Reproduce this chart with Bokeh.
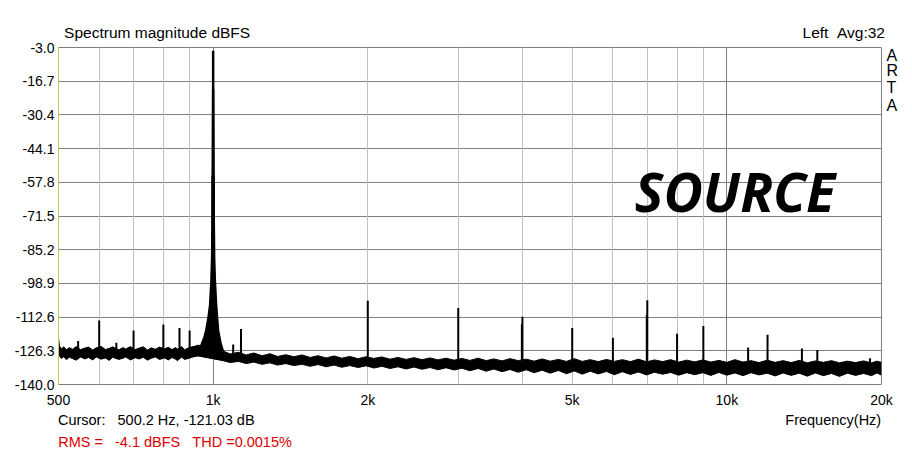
import numpy as np
from bokeh.plotting import figure
from bokeh.models import FixedTicker, Grid, Label, Range1d, LogAxis, LinearAxis
from bokeh.embed import file_html
from bokeh.resources import INLINE

# ---------------- data ----------------
# noise floor band: frequency (Hz), upper and lower envelope (dBFS)
noise_freq = [
    500, 502, 506, 512, 518, 525, 533, 541, 552, 563,
    572, 583, 592, 605, 617, 628, 637, 655, 668, 676,
    690, 705, 718, 731, 745, 758, 772, 786, 805, 818,
    832, 845, 852, 868, 880, 895, 910, 922, 935,
    1045, 1080, 1120, 1160, 1200, 1245, 1290, 1335, 1385, 1435,
    1490, 1545, 1600, 1660, 1720, 1780, 1845, 1915, 1985, 2055,
    2130, 2210, 2290, 2375, 2460, 2550, 2645, 2740, 2840, 2945,
    3050, 3160, 3280, 3400, 3520, 3650, 3785, 3925, 4070, 4215,
    4370, 4530, 4700, 4870, 5050, 5230, 5420, 5620, 5830, 6040,
    6260, 6490, 6730, 6980, 7230, 7500, 7770, 8060, 8350, 8660,
    8980, 9310, 9650, 10000, 10370, 10750, 11140, 11550, 11980, 12420,
    12870, 13340, 13830, 14340, 14870, 15410, 15980, 16560, 17170, 17800,
    18450, 19130, 19600, 20000,
]
noise_top = [
    -121.0, -124.2, -125.6, -124.7, -125.9, -125.0, -125.7, -124.6, -125.8, -125.2,
    -124.8, -126.0, -125.1, -124.5, -125.8, -125.3, -124.7, -125.9, -125.0, -125.6,
    -124.6, -125.8, -125.2, -124.7, -126.0, -125.1, -125.7, -124.8, -125.5, -124.9,
    -125.8, -125.0, -125.6, -124.6, -125.9, -125.1, -124.7, -124.4, -124.0,
    -126.4, -127.6, -126.9, -128.0, -127.2, -128.3, -127.5, -128.6, -127.9, -128.7,
    -128.0, -129.0, -128.3, -129.2, -128.4, -129.3, -128.6, -129.5, -128.7, -129.4,
    -128.8, -129.7, -129.0, -129.8, -129.1, -129.9, -129.2, -130.0, -129.3, -130.1,
    -129.4, -130.2, -129.3, -130.3, -129.6, -130.4, -129.5, -130.3, -129.7, -130.5,
    -129.6, -130.5, -129.8, -130.6, -129.5, -130.6, -129.9, -130.7, -129.8, -130.6,
    -129.9, -130.7, -129.7, -130.8, -130.0, -130.7, -129.9, -130.9, -130.1, -130.8,
    -130.0, -130.9, -130.2, -131.0, -129.9, -130.9, -130.3, -131.1, -130.1, -131.0,
    -130.3, -131.1, -130.2, -131.2, -130.4, -131.0, -130.3, -131.2, -130.5, -131.1,
    -130.4, -131.2, -130.5, -131.0,
]
noise_bottom = [
    -126.8, -128.3, -129.4, -128.7, -129.9, -128.9, -129.5, -130.1, -128.8, -129.6,
    -129.0, -130.0, -128.8, -129.7, -129.2, -130.2, -128.9, -129.8, -129.3, -128.8,
    -130.0, -129.1, -129.6, -128.9, -130.1, -129.3, -128.8, -129.8, -129.2, -130.0,
    -129.0, -129.7, -130.3, -128.9, -129.8, -129.4, -128.9, -128.6, -128.4,
    -130.3, -131.1, -130.6, -131.5, -130.9, -131.8, -131.2, -132.1, -131.5, -132.3,
    -131.8, -132.6, -131.9, -132.8, -132.1, -133.0, -132.3, -133.1, -132.4, -133.3,
    -132.6, -133.5, -132.8, -133.7, -132.9, -133.8, -133.1, -134.0, -133.2, -134.1,
    -133.4, -134.4, -133.5, -134.6, -133.7, -134.8, -133.9, -135.0, -134.0, -135.2,
    -134.2, -135.4, -134.3, -135.6, -134.5, -135.8, -134.6, -135.7, -134.7, -136.0,
    -134.8, -135.9, -134.9, -136.1, -135.0, -135.8, -135.1, -136.2, -135.2, -136.0,
    -135.2, -136.3, -135.1, -136.2, -135.3, -136.4, -135.2, -136.1, -135.4, -136.5,
    -135.3, -136.3, -135.4, -136.6, -135.3, -136.4, -135.5, -136.7, -135.4, -136.3,
    -135.5, -136.4, -135.3, -136.2,
]

# leakage skirt of the 1 kHz fundamental
skirt_freq = [935, 949, 960, 968, 978, 985.5, 991, 994.2, 996.5, 999,
              1001, 1003.5, 1005.8, 1009, 1014.5, 1019, 1024, 1036, 1048]
skirt_db = [-126.0, -123.7, -121.0, -118.3, -113.0, -107.6, -98.0, -89.0, -70.0, -20.0,
            -20.0, -70.0, -89.0, -98.0, -107.6, -113.0, -118.3, -123.7, -127.0]

fund_freq = 1000
fund_db = -4.3

# harmonics and spurious lines
spike_freq = [546, 600, 648, 700, 800, 860, 900, 1094, 1133,
              2000, 3000, 3990, 4000, 5000, 6000, 6985, 7000, 8000, 9000,
              11000, 12000, 14000, 15000, 19000]
spike_db = [-122.3, -114.0, -123.0, -118.0, -115.6, -117.0, -118.0, -123.7, -117.4,
            -106.0, -108.9, -115.5, -112.5, -117.0, -121.0, -111.6, -105.7, -119.4, -116.2,
            -125.0, -119.8, -125.4, -126.0, -129.3]

y_ticks = [-3.0, -16.7, -30.4, -44.1, -57.8, -71.5, -85.2, -98.9, -112.6, -126.3, -140.0]
x_ticks = [500, 1000, 2000, 5000, 10000, 20000]
x_tick_labels = ["500", "1k", "2k", "5k", "10k", "20k"]
grid_major_x = [1000, 10000]
grid_minor_x = [600, 700, 800, 900, 2000, 3000, 4000, 5000, 6000, 7000, 8000, 9000]

NB = "\u00a0"
title_text = "Spectrum magnitude dBFS"
channel_text = "Left" + NB * 2 + "Avg:32"
cursor_text = "Cursor:" + NB * 3 + "500.2 Hz, -121.03 dB"
xlabel_text = "Frequency(Hz)"
stats_text = "RMS =" + NB * 3 + "-4.1 dBFS" + NB * 3 + "THD =0.0015%"
brand_letters = ["A", "R", "T", "A"]
watermark_text = "SOURCE"

# ---------------- figure ----------------
FONT = "Liberation Sans"
p = figure(width=912, height=452, x_axis_type="log",
           x_range=Range1d(500, 20000), y_range=Range1d(-140, -3),
           output_backend="svg", toolbar_location=None,
           min_border_left=58, min_border_right=31,
           min_border_top=47, min_border_bottom=65)
p.background_fill_color = "white"
p.border_fill_color = "white"
p.outline_line_color = "#808080"
p.outline_line_width = 1


def plain(axis, size, standoff, color="black"):
    axis.axis_line_color = None
    axis.major_tick_line_color = None
    axis.minor_tick_line_color = None
    axis.major_tick_out = 0
    axis.minor_tick_out = 0
    axis.major_label_standoff = standoff
    axis.major_label_text_font = FONT
    axis.major_label_text_font_size = size
    axis.major_label_text_color = color


# main x axis
p.xaxis.ticker = FixedTicker(ticks=x_ticks)
p.xaxis.major_label_overrides = {t: l for t, l in zip(x_ticks, x_tick_labels)}
plain(p.xaxis[0], "14px", 7)

# main y axis
p.yaxis.ticker = FixedTicker(ticks=y_ticks)
p.yaxis.major_label_overrides = {t: f"{t:.1f}" for t in y_ticks}
plain(p.yaxis[0], "14px", 4)
p.yaxis.axis_line_color = "#c8c850"

# header line (title + channel info) as an axis above the frame
hdr_pos = [778, 16886]
ax_top = LogAxis(ticker=FixedTicker(ticks=hdr_pos),
                 major_label_overrides={hdr_pos[0]: title_text, hdr_pos[1]: channel_text})
plain(ax_top, "15.5px", 7)
p.add_layout(ax_top, "above")

# "ARTA" letters stacked on the right
arta_pos = [-6.30, -12.47, -19.40, -26.49]
ax_right = LinearAxis(ticker=FixedTicker(ticks=arta_pos),
                      major_label_overrides={v: c for v, c in zip(arta_pos, brand_letters)})
plain(ax_right, "16px", 5)
p.add_layout(ax_right, "right")

# cursor readout + axis title line
foot_pos = [775, 16110]
ax_foot1 = LogAxis(ticker=FixedTicker(ticks=foot_pos),
                   major_label_overrides={foot_pos[0]: cursor_text, foot_pos[1]: xlabel_text})
plain(ax_foot1, "14.5px", 1)
p.add_layout(ax_foot1, "below")

# RMS / THD line in red
stats_pos = [843]
ax_foot2 = LogAxis(ticker=FixedTicker(ticks=stats_pos),
                   major_label_overrides={stats_pos[0]: stats_text})
plain(ax_foot2, "14.5px", 3, color="#dd0000")
p.add_layout(ax_foot2, "below")

# grids
p.xgrid.visible = False
p.ygrid.ticker = FixedTicker(ticks=y_ticks)
p.ygrid.grid_line_color = "#808080"
p.add_layout(Grid(dimension=0, ticker=FixedTicker(ticks=grid_minor_x),
                  grid_line_color="#c0c0c0"))
p.add_layout(Grid(dimension=0, ticker=FixedTicker(ticks=grid_major_x),
                  grid_line_color="#808080"))

# noise floor band
p.varea(x=noise_freq, y1=noise_bottom, y2=noise_top, fill_color="black")
p.line(noise_freq, noise_top, line_color="black", line_width=1)
p.line(noise_freq, noise_bottom, line_color="black", line_width=1)

# fundamental with skirt
p.varea(x=skirt_freq, y1=skirt_db, y2=-128.5, fill_color="black")
p.line(skirt_freq, skirt_db, line_color="black", line_width=2)
p.segment(x0=[fund_freq], y0=[-90], x1=[fund_freq], y1=[fund_db],
          line_color="black", line_width=2.5)
p.segment(x0=[fund_freq], y0=[-90], x1=[fund_freq], y1=[-55],
          line_color="black", line_width=3.5)

# harmonic / spurious spikes, standing on the noise floor
spike_base = np.interp(np.log10(spike_freq), np.log10(noise_freq), noise_top)
p.segment(x0=spike_freq, y0=spike_base, x1=spike_freq, y1=spike_db,
          line_color="black", line_width=2)

# watermark inside the frame
p.add_layout(Label(x=6620, y=-61.5, text=watermark_text, text_font="Open Sans",
                   text_font_style="bold italic", text_font_size="54px",
                   text_baseline="middle", text_align="left", text_color="black"))

open("out.html", "w").write(file_html(p, INLINE))
